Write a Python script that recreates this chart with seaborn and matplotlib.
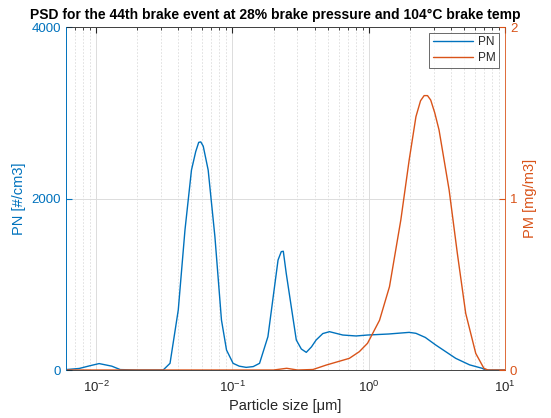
import numpy as np
import pandas as pd
import matplotlib
matplotlib.use("Agg")
import matplotlib.pyplot as plt
import seaborn as sns
from matplotlib.ticker import LogLocator, NullFormatter

sns.set_style("white")
plt.rcParams['font.family'] = ['Liberation Sans', 'DejaVu Sans']

title = "PSD for the 44th brake event at 28% brake pressure and 104°C brake temp"

pn_size = [0.006, 0.0075, 0.009, 0.0105, 0.013, 0.015, 0.02, 0.031, 0.0348, 0.040,
           0.0448, 0.050, 0.0537, 0.0565, 0.0585, 0.061, 0.0663, 0.0743, 0.083, 0.0904,
           0.101, 0.112, 0.126, 0.142, 0.158, 0.182, 0.216, 0.228, 0.236, 0.248, 0.270,
           0.294, 0.320, 0.348, 0.38, 0.411, 0.46, 0.515, 0.645, 0.807, 0.98, 1.4, 1.98,
           2.22, 2.6, 3.1, 4.35, 5.5, 6.8, 7.2, 10.0]
pn_value = [5, 18, 50, 75, 45, 5, 0, 0, 78, 700,
            1633, 2332, 2546, 2655, 2660, 2610, 2332, 1555, 583, 233,
            78, 45, 31, 40, 78, 389, 1283, 1380, 1385, 1127, 738,
            350, 245, 206, 270, 350, 425, 447, 408, 397, 408, 420, 439,
            428, 380, 292, 136, 60, 20, 0, 0]

pm_size = [0.006, 0.2, 0.25, 0.3, 0.39, 0.488, 0.72, 0.853, 0.98, 1.2, 1.42, 1.72,
           1.98, 2.22, 2.4, 2.55, 2.7, 2.85, 3.05, 3.28, 3.89, 4.47, 5.15, 6.1, 7.0,
           7.5, 10.0]
pm_value = [0, 0, 0.01, 0, 0.003, 0.029, 0.068, 0.107, 0.156, 0.29, 0.486, 0.875,
            1.224, 1.477, 1.57, 1.60, 1.60, 1.574, 1.50, 1.4, 1.05, 0.68, 0.33, 0.097,
            0.01, 0, 0]

blue = "#0072BD"
orange = "#D95319"
dark = "#262626"

pn_df = pd.DataFrame({"size": pn_size, "value": pn_value})
pm_df = pd.DataFrame({"size": pm_size, "value": pm_value})

fig = plt.figure(figsize=(5.51, 4.18), dpi=100)
ax = fig.add_axes([0.1198, 0.1148, 0.7967, 0.8206])
ax2 = ax.twinx()

sns.lineplot(data=pn_df, x="size", y="value", ax=ax, color=blue, lw=1.0, label="PN", legend=False)
sns.lineplot(data=pm_df, x="size", y="value", ax=ax2, color=orange, lw=1.0, label="PM", legend=False)

ax.set_xscale("log")
ax.set_xlim(0.006, 10)
ax.set_ylim(0, 4000)
ax2.set_ylim(0, 2)
ax.set_yticks([0, 2000, 4000])
ax2.set_yticks([0, 1, 2])

ax.xaxis.set_major_locator(LogLocator(base=10, numticks=10))
ax.xaxis.set_minor_locator(LogLocator(base=10, subs=np.arange(2, 10), numticks=50))
ax.xaxis.set_minor_formatter(NullFormatter())

ax.grid(True, which="major", axis="both", color="#dcdcdc", lw=0.7)
ax.grid(True, which="minor", axis="x", color="#dcdcdc", lw=0.6, ls=(0, (2, 2)))
ax.set_axisbelow(True)

ax.tick_params(axis="x", which="both", direction="in", top=True, colors=dark, labelsize=9.5, pad=7)
ax.tick_params(axis="x", which="major", length=4)
ax.tick_params(axis="x", which="minor", length=2.5)
ax.tick_params(axis="y", direction="in", colors=blue, labelsize=9.5, length=4)
ax2.tick_params(axis="y", direction="in", colors=orange, labelsize=9.5, length=4)

for s in ["top", "bottom"]:
    ax.spines[s].set_color(dark)
    ax.spines[s].set_linewidth(0.6)
ax.spines["left"].set_color(blue)
ax2.spines["left"].set_color(blue)
ax2.spines["right"].set_color(orange)
for s in ["left", "right"]:
    ax2.spines[s].set_linewidth(0.6)
    ax.spines[s].set_linewidth(0.6)
ax.spines["right"].set_visible(False)
ax2.spines["top"].set_visible(False)
ax2.spines["bottom"].set_visible(False)

ax.set_xlabel("Particle size [μm]", fontsize=10.5, color=dark, labelpad=3)
ax.set_ylabel("PN [#/cm3]", fontsize=10.5, color=blue)
ax2.set_ylabel("PM [mg/m3]", fontsize=10.5, color=orange)
ax.set_title(title, fontsize=10, fontweight="bold", color="black", pad=6, x=0.476)

h1, l1 = ax.get_legend_handles_labels()
h2, l2 = ax2.get_legend_handles_labels()
leg = ax2.legend(h1 + h2, l1 + l2, loc="upper right", fontsize=8.5, frameon=True,
                 fancybox=False, edgecolor=dark, handlelength=3.4, borderaxespad=0.5,
                 labelspacing=0.3, handletextpad=0.4, borderpad=0.3)
leg.get_frame().set_linewidth(0.6)

fig.savefig("out.png", dpi=100)
